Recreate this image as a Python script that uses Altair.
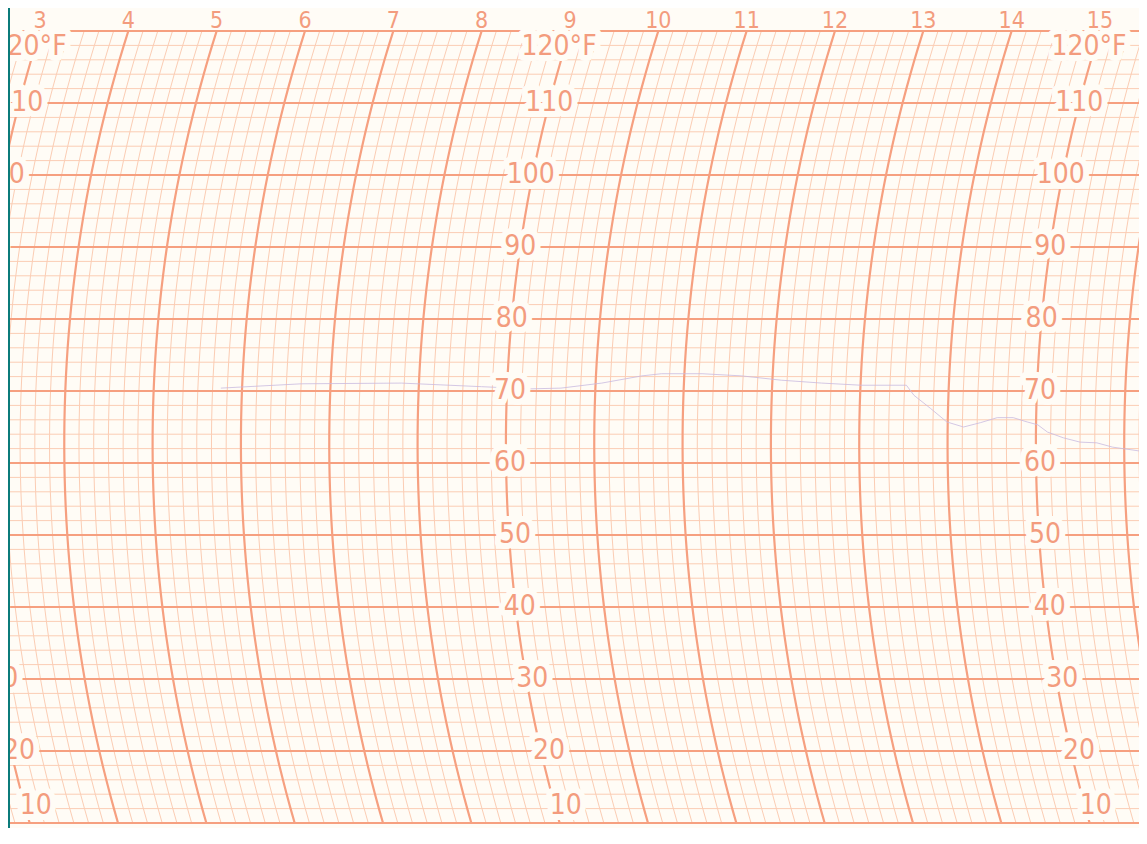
import math
import altair as alt
import pandas as pd

HOURS = [3, 4, 5, 6, 7, 8, 9, 10, 11, 12, 13, 14, 15]      # hour numbers on top edge
SCALE_HOURS = [3, 9, 15]                                   # hour lines that carry the °F scale
SCALE_TEXT = ["10", "20", "30", "40", "50", "60", "70", "80", "90", "100", "110", "120°F"]
SCALE_TEMP = [12.4, 20, 30, 40, 50, 60, 70, 80, 90, 100, 110, 117.8]
SCALE_DX = [11, 8, 6, 4, 6, 4, 3, 0, 0, -2, 0, -6]
MAJOR_TEMPS = [10, 20, 30, 40, 50, 60, 70, 80, 90, 100, 110, 120]
MINOR_TEMPS = [12, 14, 16, 18, 22, 24, 26, 28, 32, 34, 36, 38, 42, 44, 46, 48,
               52, 54, 56, 58, 62, 64, 66, 68, 72, 74, 76, 78, 82, 84, 86, 88,
               92, 94, 96, 98, 102, 104, 106, 108, 112, 114, 116, 118]

# recorded temperature trace (time in hours, temperature in °F)
TRACE_HOUR = [5.76, 6.67, 7.80, 8.71, 9.27, 9.61, 10.07, 10.52, 10.74, 11.20,
              11.65, 12.10, 12.56, 13.01, 13.52, 13.61, 13.80, 13.99, 14.18, 14.37,
              14.56, 14.74, 14.90, 15.02, 15.13, 15.31, 15.50, 15.69, 15.87, 16.10, 16.26]
TRACE_TEMP = [70.4, 71.0, 71.1, 70.6, 70.3, 70.4, 71.1, 72.1, 72.4, 72.4,
              72.1, 71.5, 71.1, 70.8, 70.8, 69.4, 67.6, 65.7, 65.0, 65.6,
              66.3, 66.3, 65.7, 65.3, 64.3, 63.5, 62.9, 62.8, 62.2, 61.8, 61.5]

# ---------------- paper geometry ----------------
W, H = 1131, 820
X_DOMAIN = [2.6377, 15.442]
Y_DOMAIN = [9.306, 123.194]
PX_PER_HOUR = W / (X_DOMAIN[1] - X_DOMAIN[0])
PX_PER_DEG = H / (Y_DOMAIN[1] - Y_DOMAIN[0])
ARC_R = 1363.0          # pen-arm radius in px
ARC_CENTER_T = 62.64    # temperature level of the arc centre


def arc_px(t):
    d = (t - ARC_CENTER_T) * PX_PER_DEG
    return ARC_R - math.sqrt(ARC_R ** 2 - d * d)


TOP = arc_px(120)


def shift(t):
    return (arc_px(t) - TOP) / PX_PER_HOUR


PAPER = "#fffcf6"
TEAL = "#0b7b7a"
HEAVY = "#f6a080"
FINE = "#fbcdb4"
INK = "#f39c7e"
TRACE = "#c9bae0"
FONT = "Liberation Sans Narrow, Arial Narrow, DejaVu Sans Condensed, sans-serif"

# ---------------- tables ----------------
arc_rows = []
for k in range(15, 100):              # every 10 minutes
    h = k / 6.0
    major = (k % 6 == 0)
    for t in range(10, 121, 2):
        arc_rows.append({"id": k, "major": major, "T": t, "x": h + shift(t)})
arcs = pd.DataFrame(arc_rows)

minor_h = pd.DataFrame({"T": MINOR_TEMPS})
major_h = pd.DataFrame({"T": MAJOR_TEMPS})

trace = pd.DataFrame({
    "x": [h + shift(t) for h, t in zip(TRACE_HOUR, TRACE_TEMP)],
    "T": TRACE_TEMP,
    "i": list(range(len(TRACE_TEMP))),
})

lab_rows = []
for sh in SCALE_HOURS:
    for txt, t, dx in zip(SCALE_TEXT, SCALE_TEMP, SCALE_DX):
        lab_rows.append({"txt": txt, "T": t, "x": sh + shift(t) + dx / PX_PER_HOUR})
labels = pd.DataFrame(lab_rows)

hour_df = pd.DataFrame({"h": HOURS, "txt": [str(h) for h in HOURS], "T": [120] * len(HOURS)})

xs = alt.Scale(domain=X_DOMAIN, nice=False, zero=False)
ys = alt.Scale(domain=Y_DOMAIN, nice=False, zero=False)

minor_rules = alt.Chart(minor_h).mark_rule(color=FINE, strokeWidth=1).encode(
    y=alt.Y("T:Q", scale=ys, axis=None))
minor_arcs = alt.Chart(arcs).transform_filter("!datum.major").mark_line(
    color=FINE, strokeWidth=1, clip=True).encode(
    x=alt.X("x:Q", scale=xs, axis=None), y=alt.Y("T:Q", scale=ys, axis=None),
    detail="id:N", order="T:Q")
major_rules = alt.Chart(major_h).mark_rule(color=HEAVY, strokeWidth=2.2).encode(
    y=alt.Y("T:Q", scale=ys, axis=None))
major_arcs = alt.Chart(arcs).transform_filter("datum.major").mark_line(
    color=HEAVY, strokeWidth=2.2, clip=True).encode(
    x=alt.X("x:Q", scale=xs, axis=None), y=alt.Y("T:Q", scale=ys, axis=None),
    detail="id:N", order="T:Q")
trace_line = alt.Chart(trace).mark_line(color=TRACE, strokeWidth=1, opacity=0.8, clip=True).encode(
    x=alt.X("x:Q", scale=xs, axis=None), y=alt.Y("T:Q", scale=ys, axis=None), order="i:Q")

halo = alt.Chart(labels).mark_text(
    font=FONT, fontSize=28, align="center", baseline="middle",
    fill=PAPER, stroke=PAPER, strokeWidth=12, strokeJoin="round", clip=True).encode(
    x=alt.X("x:Q", scale=xs, axis=None), y=alt.Y("T:Q", scale=ys, axis=None), text="txt:N")
scale_text = alt.Chart(labels).mark_text(
    font=FONT, fontSize=28, align="center", baseline="middle", color=INK, clip=True).encode(
    x=alt.X("x:Q", scale=xs, axis=None), y=alt.Y("T:Q", scale=ys, axis=None), text="txt:N")
hour_text = alt.Chart(hour_df).mark_text(
    font=FONT, fontSize=23, align="center", baseline="alphabetic", dy=-3, color=INK, clip=True).encode(
    x=alt.X("h:Q", scale=xs, axis=None), y=alt.Y("T:Q", scale=ys, axis=None), text="txt:N")

# teal edge of the photographed board, left of the paper
edge = alt.Chart(hour_df).mark_rule(color=TEAL, strokeWidth=3).encode(
    x=alt.value(0.5), y=alt.value(0), y2=alt.value(H))

chart = alt.layer(
    minor_rules, minor_arcs, major_rules, major_arcs, trace_line, halo, scale_text, hour_text, edge
).properties(
    width=W, height=H,
    autosize=alt.AutoSizeParams(type="none"),
    padding=0,
    background=PAPER,
).configure_view(fill=PAPER, strokeWidth=0)

chart.save("out.html", embed_options={"renderer": "svg", "actions": False})
